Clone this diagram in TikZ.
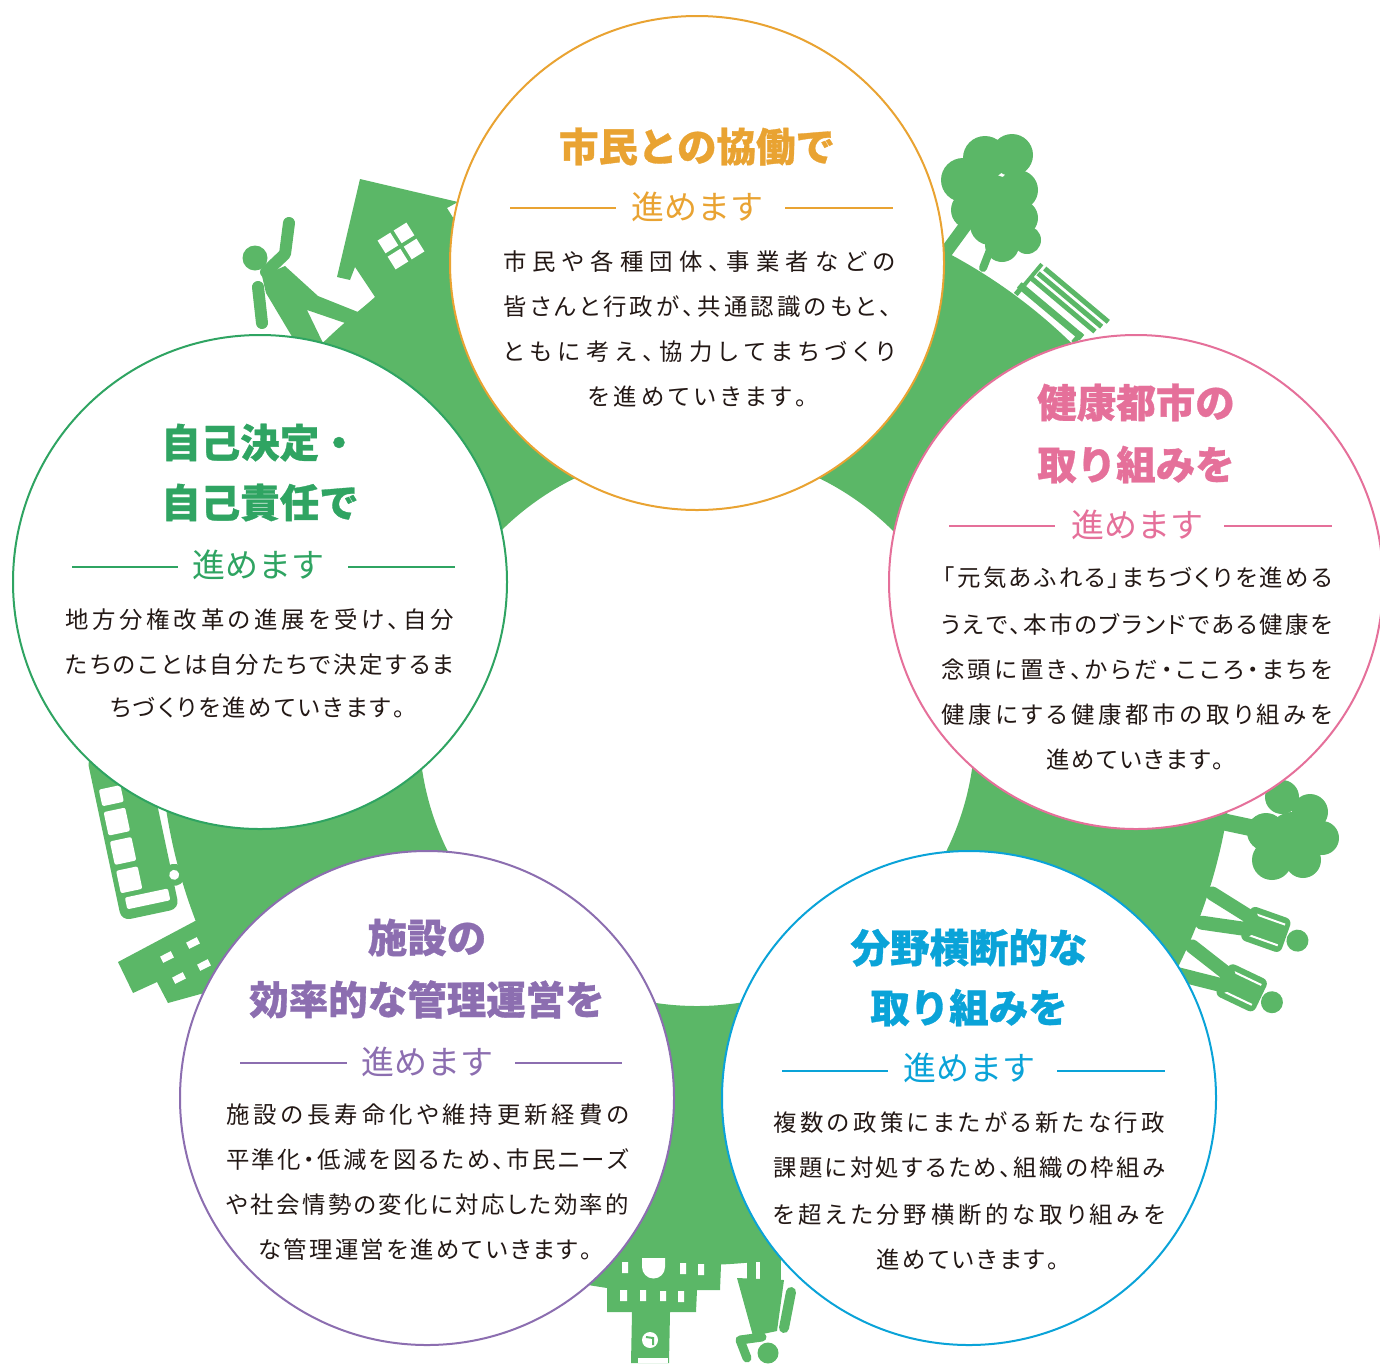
\documentclass[tikz,border=0pt]{standalone}
\usepackage{fontspec}
\setmainfont{Noto Sans CJK JP}
\usetikzlibrary{calc}

\definecolor{ringgreen}{HTML}{5BB767}
\definecolor{kyodoC}{HTML}{E9A332}
\definecolor{kenkoC}{HTML}{E5709A}
\definecolor{jikoC}{HTML}{2FA462}
\definecolor{shisetsuC}{HTML}{8C6EB0}
\definecolor{bunyaC}{HTML}{0AA3D8}
\definecolor{ink}{HTML}{231815}

% one line of text spread evenly over a given width (in pt)
\ExplSyntaxOn
\NewDocumentCommand\spreadline{mm}{\hbox to #1pt{\tl_map_inline:nn{#2}{##1\hfil}\unskip}}
\ExplSyntaxOff

\tikzset{
  bubble/.style={circle, draw=#1, line width=2pt, fill=white, minimum size=494pt, inner sep=0pt},
  heading/.style={text=#1, font=\fontsize{39.5}{39.5}\selectfont\bfseries\addfontfeatures{FakeBold=0.8},
    inner sep=0pt, text height=34pt, text depth=5pt},
  motto/.style={text=#1, font=\fontsize{33}{33}\selectfont, inner sep=0pt, text height=29pt, text depth=4pt},
  sideline/.style={draw=#1, line width=2pt},
  body/.style={text=ink, font=\fontsize{23.4}{23.4}\selectfont\addfontfeatures{RawFeature=+palt},
    inner sep=0pt, anchor=west, text height=20.6pt, text depth=2.8pt},
  limb/.style={draw=ringgreen, line cap=round, line join=round},
  walker/.pic={
    \fill[ringgreen] (0,637) circle[radius=11];
    \fill[ringgreen, rounded corners=6] (-18,582) rectangle (18,625);
    \draw[white, line width=2] (-11,590) -- (-11,620) (11,590) -- (11,620);
    \draw[limb, line width=14] (-6,586) -- (-16,541) (6,586) -- (15,541);
  },
}

\begin{document}
\begin{tikzpicture}[x=1pt, y=-1pt]
  \useasboundingbox (0,0) rectangle (1380,1363);

  % the green ground ring
  \fill[ringgreen, even odd rule] (697,728) circle[radius=537] (697,728) circle[radius=278];

  % house and the man pushing it
  \fill[ringgreen] (360,179) -- (458,202) -- (447,208) -- (542,360) -- (443,422) -- (330,350)
    -- (345,323) -- (358,312) -- (375,297) -- (355,267) -- (350,280) -- (337,277) -- cycle;
  \begin{scope}[shift={(401,246)}, rotate=32]
    \foreach \i/\j in {-1/-1,1/-1,-1/1,1/1}
      \fill[white] (\i*9.5-7.5,\j*9.5-7.5) rectangle ++(15,15);
  \end{scope}
  \fill[ringgreen] (255,258) circle[radius=12.5];
  \draw[limb, line width=12] (266,272) -- (285,254) -- (289,223);
  \draw[limb, line width=12] (258,287) -- (262,323);
  \fill[ringgreen] (262,276) -- (285,266) -- (318,296) -- (358,312) -- (345,323) -- (307,310)
    -- (323,343) -- (300,350) -- (266,293) -- cycle;

  % tree and bench
  \foreach \x/\y/\r in {963/180/22, 985/158/22, 1012/155/21, 1018/190/20, 970/210/19,
      1020/218/18, 993/200/25, 1027/240/14, 1002/245/17, 990/225/20}
    \fill[ringgreen] (\x,\y) circle[radius=\r];
  \draw[limb, line width=13] (946,252) -- (968,222);
  \draw[limb, line width=8] (983,268) -- (990,250);
  \begin{scope}[shift={(697,728)}, rotate=-40, yscale=-1]
    \fill[ringgreen] (-37,537) rectangle (-32,550);
    \fill[ringgreen] (38,537) rectangle (43,550);
    \fill[ringgreen] (-38,543) rectangle (44,550);
    \fill[ringgreen] (-36,550) rectangle (-32,577);
    \fill[ringgreen] (-33,557) rectangle (50,562);
    \fill[ringgreen] (-31,565) rectangle (52,570);
    \fill[ringgreen] (-29,573) rectangle (54,578);
  \end{scope}

  % tree and two walkers on the right
  \foreach \x/\y/\r in {1282/797/17, 1310/812/18, 1322/838/17, 1303/860/18,
      1272/860/20, 1266/832/19, 1292/835/23}
    \fill[ringgreen] (\x,\y) circle[radius=\r];
  \draw[limb, line width=17, line cap=butt] (1215,820) -- (1262,830);
  \foreach \a in {109.5,115.5}
    \pic[rotate=-\a, yscale=-1] at (697,728) {walker};

  % building and person hanging below
  \fill[ringgreen] (585,1240) -- (722,1240) -- (720,1290) -- (697,1290) -- (696,1312) -- (670,1312)
    -- (669,1363) -- (631,1363) -- (632,1312) -- (607,1312) -- (607,1288) -- (588,1285) -- cycle;
  \fill[white] (622,1262) rectangle (628,1273) (680,1263) rectangle (686,1274)
    (698,1264) rectangle (704,1275);
  \fill[white] (642,1258) -- (642,1267) arc[start angle=180, end angle=0, radius=11.5] -- (665,1258) -- cycle;
  \fill[white] (620,1290) rectangle (627,1301) (640,1290) rectangle (646,1301)
    (660,1291) rectangle (666,1301) (678,1291) rectangle (684,1302);
  \fill[white] (650,1340) circle[radius=8];
  \draw[ringgreen, line width=2] (646,1337) -- (653,1338) -- (653,1345);
  \fill[white] (638,1358) rectangle (668,1363);
  \fill[ringgreen] (747,1250) rectangle (781,1282);
  \fill[white] (756,1262) rectangle (760,1281);
  \fill[ringgreen] (737,1278) -- (784,1280) -- (777,1331) -- (753,1336) -- cycle;
  \draw[limb, line width=10] (791,1292) -- (784,1328);
  \draw[limb, line width=9] (762,1337) -- (740,1340) -- (747,1358);
  \fill[ringgreen] (768,1353) circle[radius=10.5];

  % bus and block on the lower left
  \begin{scope}[shift={(137,849)}, rotate=12]
    \draw[white, line width=5] (32,-45) -- (32,72);
    \fill[ringgreen, rounded corners=9] (-30,-100) rectangle (29,67);
    \fill[white, rounded corners=2] (-25,-66) rectangle (-3,-49) (-25,-43) rectangle (-3,-19)
      (-25,-13) rectangle (-3,11) (-25,17) rectangle (-3,40) (-22,45) rectangle (22,57);
    \fill[ringgreen] (31,33) circle[radius=11];
    \fill[white] (31,33) circle[radius=5];
  \end{scope}
  \fill[ringgreen] (118,962) -- (197,920) -- (235,935) -- (215,990) -- (168,1003) -- (157,982)
    -- (133,993) -- cycle;
  \foreach \x/\y in {167/957, 193/943, 179/978, 204/965}
    \fill[white, rotate around={27:(\x,\y)}] (\x-6,\y-3.5) rectangle (\x+6,\y+3.5);

  % create the circles
  \node[bubble=kyodoC] (kyodo) at (697,263) {};
  \node[bubble=kenkoC] (kenko) at (1136,582) {};
  \node[bubble=jikoC] (jiko) at (260,582) {};
  \node[bubble=shisetsuC] (shisetsu) at (427,1098) {};
  \node[bubble=bunyaC] (bunya) at (969,1098) {};

  % top circle
  \node[heading=kyodoC] (kyodo-t) at ($(kyodo)+(0,-116)$) {市民との協働で};
  \node[motto=kyodoC] (kyodo-m) at ($(kyodo)+(0,-56)$) {進めます};
  \draw[sideline=kyodoC] ($(kyodo)+(-187,-55)$) -- ++(106,0) ($(kyodo)+(88,-55)$) -- ++(108,0);
  \node[body] (kyodo-1) at ($(kyodo)+(-194,-1)$) {\spreadline{392}{市民や各種団体、事業者などの}};
  \node[body] (kyodo-2) at ($(kyodo)+(-194,44)$) {\spreadline{388}{皆さんと行政が、共通認識のもと、}};
  \node[body] (kyodo-3) at ($(kyodo)+(-194,89)$) {\spreadline{392}{ともに考え、協力してまちづくり}};
  \node[body] (kyodo-4) at ($(kyodo)+(-109,134)$) {\spreadline{219}{を進めていきます。}};

  % right circle
  \node[heading=kenkoC] (kenko-t1) at ($(kenko)+(0,-179)$) {健康都市の};
  \node[heading=kenkoC] (kenko-t2) at ($(kenko)+(0,-117)$) {取り組みを};
  \node[motto=kenkoC] (kenko-m) at ($(kenko)+(1,-57)$) {進めます};
  \draw[sideline=kenkoC] ($(kenko)+(-187,-56)$) -- ++(106,0) ($(kenko)+(88,-56)$) -- ++(108,0);
  \node[body] (kenko-1) at ($(kenko)+(-193,-4)$) {\spreadline{389}{「元気あふれる」まちづくりを進める}};
  \node[body] (kenko-2) at ($(kenko)+(-195,43)$) {\spreadline{391}{うえで、本市のブランドである健康を}};
  \node[body] (kenko-3) at ($(kenko)+(-195,88)$) {\spreadline{391}{念頭に置き、からだ・こころ・まちを}};
  \node[body] (kenko-4) at ($(kenko)+(-195,133)$) {\spreadline{391}{健康にする健康都市の取り組みを}};
  \node[body] (kenko-5) at ($(kenko)+(-90,178)$) {\spreadline{178}{進めていきます。}};

  % left circle
  \node[heading=jikoC] (jiko-t1) at ($(jiko)+(0,-139)$) {自己決定・};
  \node[heading=jikoC] (jiko-t2) at ($(jiko)+(0,-79)$) {自己責任で};
  \node[motto=jikoC] (jiko-m) at ($(jiko)+(-2,-17)$) {進めます};
  \draw[sideline=jikoC] ($(jiko)+(-188,-15)$) -- ++(106,0) ($(jiko)+(88,-15)$) -- ++(107,0);
  \node[body] (jiko-1) at ($(jiko)+(-195,38)$) {\spreadline{389}{地方分権改革の進展を受け、自分}};
  \node[body] (jiko-2) at ($(jiko)+(-195,83)$) {\spreadline{389}{たちのことは自分たちで決定するま}};
  \node[body] (jiko-3) at ($(jiko)+(-150,126)$) {\spreadline{295}{ちづくりを進めていきます。}};

  % lower left circle
  \node[heading=shisetsuC] (shisetsu-t1) at ($(shisetsu)+(0,-160)$) {施設の};
  \node[heading=shisetsuC] (shisetsu-t2) at ($(shisetsu)+(0,-98)$) {効率的な管理運営を};
  \node[motto=shisetsuC] (shisetsu-m) at ($(shisetsu)+(0,-36)$) {進めます};
  \draw[sideline=shisetsuC] ($(shisetsu)+(-187,-35)$) -- ++(107,0) ($(shisetsu)+(88,-35)$) -- ++(107,0);
  \node[body] (shisetsu-1) at ($(shisetsu)+(-201,17)$) {\spreadline{403}{施設の長寿命化や維持更新経費の}};
  \node[body] (shisetsu-2) at ($(shisetsu)+(-201,62)$) {\spreadline{403}{平準化・低減を図るため、市民ニーズ}};
  \node[body] (shisetsu-3) at ($(shisetsu)+(-201,107)$) {\spreadline{403}{や社会情勢の変化に対応した効率的}};
  \node[body] (shisetsu-4) at ($(shisetsu)+(-169,152)$) {\spreadline{334}{な管理運営を進めていきます。}};

  % lower right circle
  \node[heading=bunyaC] (bunya-t1) at ($(bunya)+(0,-150)$) {分野横断的な};
  \node[heading=bunyaC] (bunya-t2) at ($(bunya)+(0,-90)$) {取り組みを};
  \node[motto=bunyaC] (bunya-m) at ($(bunya)+(0,-30)$) {進めます};
  \draw[sideline=bunyaC] ($(bunya)+(-187,-27)$) -- ++(106,0) ($(bunya)+(88,-27)$) -- ++(108,0);
  \node[body] (bunya-1) at ($(bunya)+(-196,25)$) {\spreadline{392}{複数の政策にまたがる新たな行政}};
  \node[body] (bunya-2) at ($(bunya)+(-196,70)$) {\spreadline{392}{課題に対処するため、組織の枠組み}};
  \node[body] (bunya-3) at ($(bunya)+(-196,117)$) {\spreadline{392}{を超えた分野横断的な取り組みを}};
  \node[body] (bunya-4) at ($(bunya)+(-93,162)$) {\spreadline{183}{進めていきます。}};
\end{tikzpicture}
\end{document}
